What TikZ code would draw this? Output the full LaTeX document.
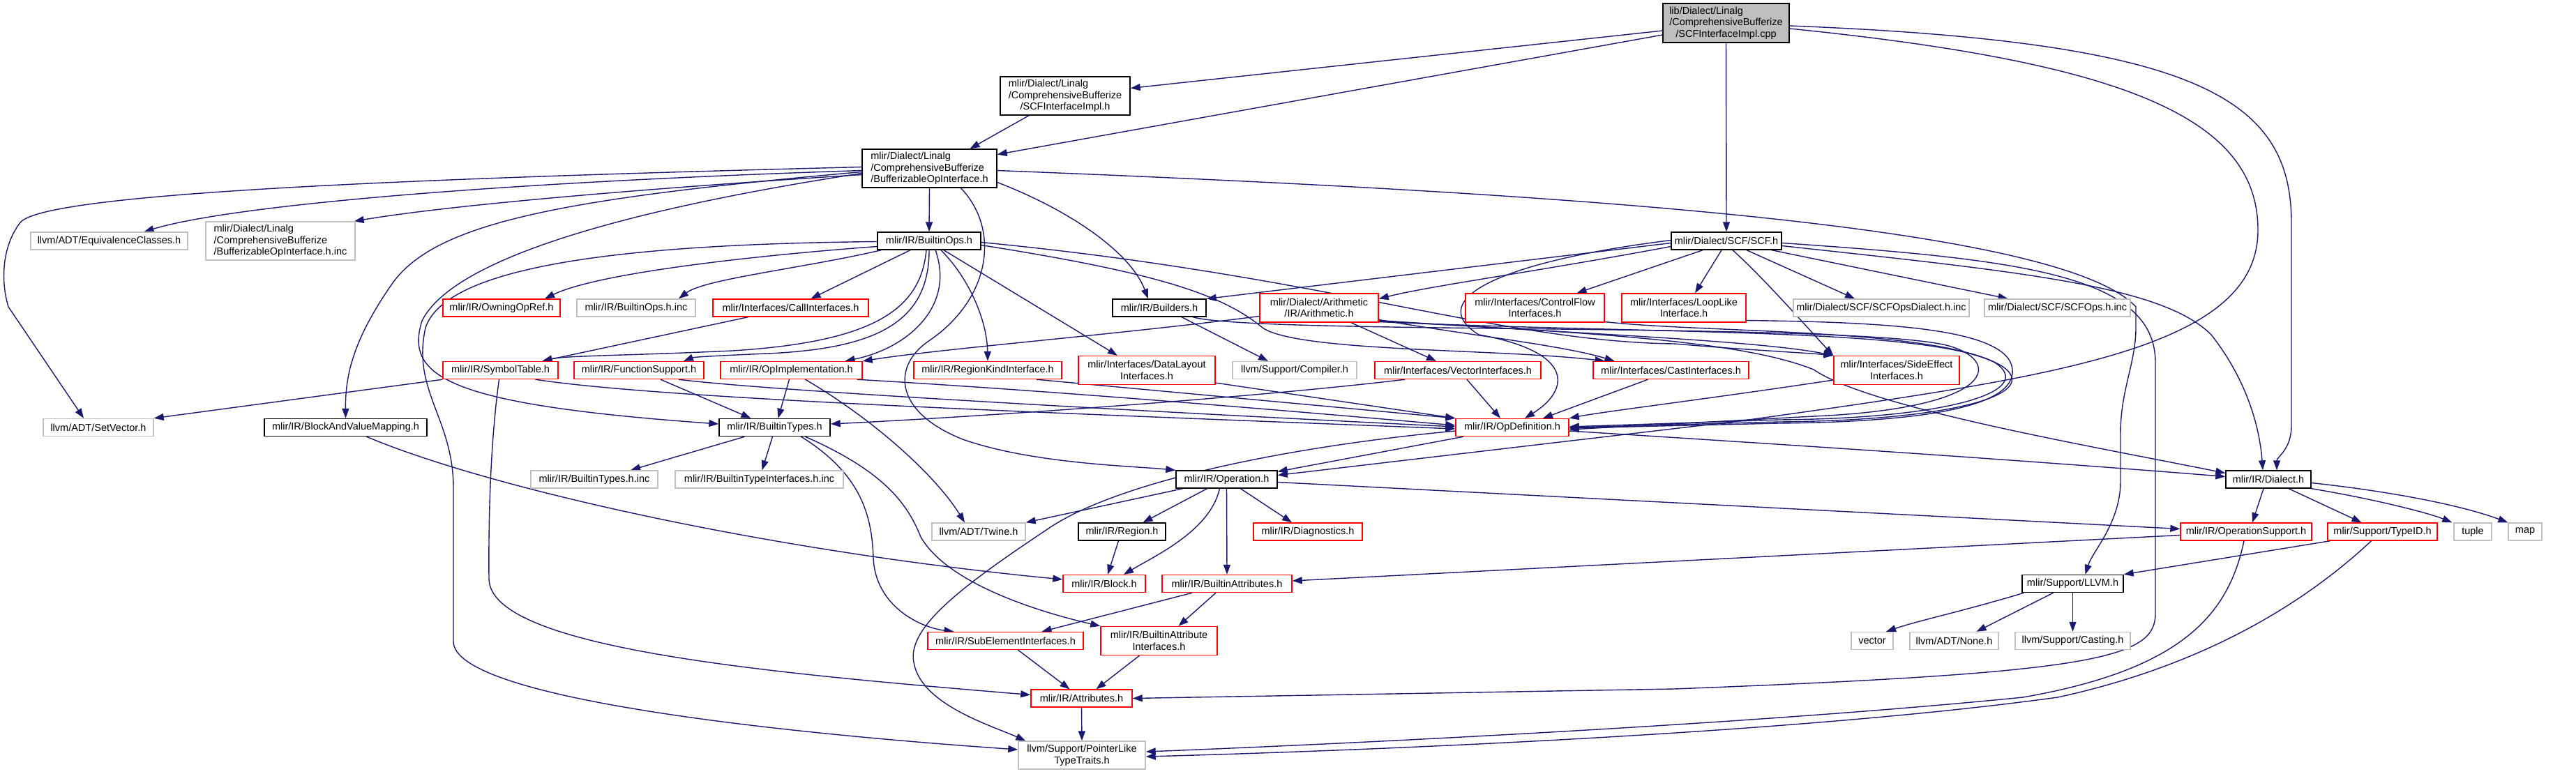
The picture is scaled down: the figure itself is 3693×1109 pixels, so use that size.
\documentclass[tikz,border=0pt]{standalone}
\usepackage{fontspec}
\setmainfont{Liberation Sans}
\usetikzlibrary{arrows.meta,backgrounds}
\definecolor{edgeblue}{HTML}{191970}
\definecolor{srcgray}{HTML}{BFBFBF}
\definecolor{sysgray}{HTML}{BFBFBF}
\newcommand{\lline}[2]{\makebox[0pt][l]{#1}\phantom{#2}}

\begin{document}
\begin{tikzpicture}[x=1pt, y=-1pt,
  hdr/.style={draw=black, fill=white, line width=1.4pt, inner sep=0pt, align=center, minimum height=25pt, font=\fontsize{14.5}{16.5}\selectfont},
  redhdr/.style={hdr, draw=red},
  syshdr/.style={hdr, draw=sysgray},
  srchdr/.style={hdr, fill=srcgray},
  inc/.style={->, draw=edgeblue, line width=1.4pt},
  >={Triangle[length=14pt,width=10pt]}]
	\useasboundingbox (0,0) rectangle (3693,1109);
	\node[srchdr, minimum width=181pt, minimum height=56pt] (root) at (2474.5,33) {\lline{lib/Dialect/Linalg}{/ComprehensiveBufferize}\\/ComprehensiveBufferize\\/SCFInterfaceImpl.cpp};
	\node[hdr, minimum width=186pt, minimum height=55pt] (scfimplh) at (1527,137.5) {\lline{mlir/Dialect/Linalg}{/ComprehensiveBufferize}\\/ComprehensiveBufferize\\/SCFInterfaceImpl.h};
	\node[hdr, minimum width=193pt, minimum height=55pt] (boi) at (1332.5,241.5) {\lline{mlir/Dialect/Linalg}{/BufferizableOpInterface.h}\\\lline{/ComprehensiveBufferize}{/BufferizableOpInterface.h}\\/BufferizableOpInterface.h};
	\node[syshdr, minimum width=225pt] (equiv) at (156.5,345.5) {llvm/ADT/EquivalenceClasses.h};
	\node[syshdr, minimum width=214pt, minimum height=55pt] (boiinc) at (402,345.5) {\lline{mlir/Dialect/Linalg}{/BufferizableOpInterface.h.inc}\\\lline{/ComprehensiveBufferize}{/BufferizableOpInterface.h.inc}\\/BufferizableOpInterface.h.inc};
	\node[hdr, minimum width=148pt] (builtinops) at (1332,345.5) {mlir/IR/BuiltinOps.h};
	\node[hdr, minimum width=158pt] (scf) at (2475,345.5) {mlir/Dialect/SCF/SCF.h};
	\node[redhdr, minimum width=168pt] (owning) at (719,441.5) {mlir/IR/OwningOpRef.h};
	\node[syshdr, minimum width=170pt] (builtinopsinc) at (912,441.5) {mlir/IR/BuiltinOps.h.inc};
	\node[redhdr, minimum width=223pt] (callif) at (1133.5,441.5) {mlir/Interfaces/CallInterfaces.h};
	\node[hdr, minimum width=134pt] (builders) at (1662,441.5) {mlir/IR/Builders.h};
	\node[redhdr, minimum width=170pt, minimum height=41pt] (arith) at (1891,441.5) {mlir/Dialect/Arithmetic\\/IR/Arithmetic.h};
	\node[redhdr, minimum width=199pt, minimum height=41pt] (controlflow) at (2200.5,441.5) {mlir/Interfaces/ControlFlow\\Interfaces.h};
	\node[redhdr, minimum width=178pt, minimum height=41pt] (looplike) at (2414,441.5) {mlir/Interfaces/LoopLike\\Interface.h};
	\node[syshdr, minimum width=252pt] (scfdialectinc) at (2697,441.5) {mlir/Dialect/SCF/SCFOpsDialect.h.inc};
	\node[syshdr, minimum width=209pt] (scfopsinc) at (2949.5,441.5) {mlir/Dialect/SCF/SCFOps.h.inc};
	\node[redhdr, minimum width=165pt] (symtab) at (717.5,531) {mlir/IR/SymbolTable.h};
	\node[redhdr, minimum width=186pt] (funcsupport) at (916,531) {mlir/IR/FunctionSupport.h};
	\node[redhdr, minimum width=203pt] (opimpl) at (1134.5,531) {mlir/IR/OpImplementation.h};
	\node[redhdr, minimum width=212pt] (regionkind) at (1416,531) {mlir/IR/RegionKindInterface.h};
	\node[redhdr, minimum width=196pt, minimum height=41pt] (datalayout) at (1644,531) {mlir/Interfaces/DataLayout\\Interfaces.h};
	\node[syshdr, minimum width=178pt] (compiler) at (1856,531) {llvm/Support/Compiler.h};
	\node[redhdr, minimum width=238pt] (vectorif) at (2090,531) {mlir/Interfaces/VectorInterfaces.h};
	\node[redhdr, minimum width=223pt] (castif) at (2395.5,531) {mlir/Interfaces/CastInterfaces.h};
	\node[redhdr, minimum width=180pt, minimum height=41pt] (sideeffect) at (2719,531) {mlir/Interfaces/SideEffect\\Interfaces.h};
	\node[syshdr, minimum width=158pt] (setvector) at (141,613) {llvm/ADT/SetVector.h};
	\node[hdr, minimum width=233pt] (bvm) at (495.5,613) {mlir/IR/BlockAndValueMapping.h};
	\node[hdr, minimum width=159pt] (builtintypes) at (1110.5,613) {mlir/IR/BuiltinTypes.h};
	\node[redhdr, minimum width=162pt] (opdef) at (2168,613) {mlir/IR/OpDefinition.h};
	\node[syshdr, minimum width=182pt] (builtintypesinc) at (852,687.5) {mlir/IR/BuiltinTypes.h.inc};
	\node[syshdr, minimum width=241pt] (builtintypeifinc) at (1088.5,687.5) {mlir/IR/BuiltinTypeInterfaces.h.inc};
	\node[hdr, minimum width=145pt] (operation) at (1758.5,687.5) {mlir/IR/Operation.h};
	\node[hdr, minimum width=122pt] (dialect) at (3252,687.5) {mlir/IR/Dialect.h};
	\node[syshdr, minimum width=134pt] (twine) at (1403,762.5) {llvm/ADT/Twine.h};
	\node[hdr, minimum width=125pt] (region) at (1608.5,762.5) {mlir/IR/Region.h};
	\node[redhdr, minimum width=156pt] (diagnostics) at (1875,762.5) {mlir/IR/Diagnostics.h};
	\node[redhdr, minimum width=188pt] (opsupport) at (3220,762.5) {mlir/IR/OperationSupport.h};
	\node[redhdr, minimum width=157pt] (typeid) at (3415.5,762.5) {mlir/Support/TypeID.h};
	\node[syshdr, minimum width=54pt] (tuple) at (3545,762.5) {tuple};
	\node[syshdr, minimum width=48pt] (map) at (3620,762.5) {map};
	\node[redhdr, minimum width=118pt] (block) at (1583,837) {mlir/IR/Block.h};
	\node[redhdr, minimum width=186pt] (builtinattrs) at (1759,837) {mlir/IR/BuiltinAttributes.h};
	\node[hdr, minimum width=145pt] (llvmh) at (2971.5,837) {mlir/Support/LLVM.h};
	\node[redhdr, minimum width=223pt] (subelem) at (1441.5,919) {mlir/IR/SubElementInterfaces.h};
	\node[redhdr, minimum width=167pt, minimum height=41pt] (builtinattrif) at (1661.5,919) {mlir/IR/BuiltinAttribute\\Interfaces.h};
	\node[syshdr, minimum width=60pt] (vector) at (2684,919) {vector};
	\node[syshdr, minimum width=127pt] (none) at (2801.5,919) {llvm/ADT/None.h};
	\node[syshdr, minimum width=165pt] (casting) at (2971.5,919) {llvm/Support/Casting.h};
	\node[redhdr, minimum width=145pt] (attrs) at (1550.5,1001.5) {mlir/IR/Attributes.h};
	\node[syshdr, minimum width=182pt, minimum height=40pt] (ptrlike) at (1551,1083) {llvm/Support/PointerLike\\TypeTraits.h};
	\begin{scope}[on background layer]
	\fill[white] (0,0) rectangle (3693,1109);
	\draw[inc] ([yshift=-11pt]root.west) -- ([yshift=11pt]scfimplh.east);
	\draw[inc] ([yshift=-17pt]root.west) -- ([yshift=20pt]boi.east);
	\draw[inc] (root.south) -- (scf.north);
	\draw[inc] ([yshift=-4pt]root.east) .. controls (3150,60) and (3285,140) .. (3285,320) -- (3285,610) .. controls (3285,645) and (3264,655) .. ([xshift=12pt]dialect.north);
	\draw[inc] ([yshift=-8pt]root.east) .. controls (3050,90) and (3237,170) .. (3237,330) .. controls (3237,500) and (2950,540) .. (2500,603) -- ([yshift=6pt]operation.east);
	\draw[inc] ([xshift=-52pt]scfimplh.south) -- ([xshift=58pt]boi.north);
	\draw[inc] ([yshift=-3pt]boi.west) .. controls (700,262) and (330,295) .. ([xshift=50pt]equiv.north);
	\draw[inc] ([yshift=-9pt]boi.west) .. controls (900,272) and (640,295) .. ([xshift=-2pt]boiinc.north east);
	\draw[inc] ([yshift=2pt]boi.west) .. controls (500,258) and (70,280) .. (30,318) .. controls (4,350) and (0,400) .. (12,440) -- ([xshift=-21pt]setvector.north);
	\draw[inc] ([yshift=-5pt]boi.west) .. controls (800,285) and (620,320) .. (560,410) .. controls (505,490) and (495,540) .. (bvm.north);
	\draw[inc] (boi.south) -- (builtinops.north);
	\draw[inc] ([yshift=-20pt]boi.east) .. controls (1530,300) and (1620,360) .. ([xshift=-16pt]builders.north);
	\draw[inc] ([yshift=-7pt]boi.west) .. controls (900,300) and (650,370) .. (605,460) .. controls (580,540) and (640,580) .. ([yshift=5pt]builtintypes.west);
	\draw[inc] ([xshift=45pt]boi.south) .. controls (1435,330) and (1420,430) .. (1330,490) .. controls (1280,525) and (1280,590) .. (1380,630) .. controls (1480,665) and (1620,668) .. (operation.north west);
	\draw[inc] ([yshift=-3pt]boi.east) .. controls (2200,275) and (2950,320) .. (3062,440) -- (3062,470) .. controls (3062,520) and (3040,560) .. (3040,620) -- (3040,690) .. controls (3040,750) and (3000,790) .. ([xshift=18pt]llvmh.north);
	\draw[inc] ([yshift=-8pt]builtinops.west) .. controls (1100,365) and (860,390) .. ([xshift=62pt]owning.north);
	\draw[inc] ([xshift=6pt]builtinops.south west) .. controls (1150,385) and (1010,400) .. ([xshift=61pt]builtinopsinc.north);
	\draw[inc] ([xshift=-27pt]builtinops.south) -- ([xshift=29pt]callif.north);
	\draw[inc] ([xshift=-4pt]builtinops.south) .. controls (1320,440) and (1260,490) .. (1050,503) .. controls (900,510) and (810,510) .. ([xshift=60pt]symtab.north);
	\draw[inc] (builtinops.south) .. controls (1332,460) and (1260,500) .. (1100,507) .. controls (1030,510) and (995,512) .. ([xshift=64pt]funcsupport.north);
	\draw[inc] ([xshift=9pt]builtinops.south) .. controls (1370,440) and (1300,500) .. ([xshift=77pt]opimpl.north);
	\draw[inc] ([xshift=17pt]builtinops.south) .. controls (1390,400) and (1415,460) .. (regionkind.north);
	\draw[inc] ([xshift=21pt]builtinops.south) -- ([xshift=-42pt]datalayout.north);
	\draw[inc] ([yshift=-6pt]builtinops.east) .. controls (1650,390) and (1750,420) .. (1810,470) .. controls (1860,505) and (2150,500) .. ([xshift=-95pt]castif.north);
	\draw[inc] ([yshift=-2pt]builtinops.east) .. controls (1900,395) and (2150,490) .. (2400,493) .. controls (2520,503) and (2590,506) .. (sideeffect.north west);
	\draw[inc] ([yshift=-1pt]builtinops.west) .. controls (900,350) and (640,380) .. (610,470) .. controls (590,560) and (650,600) .. (650,700) -- (650,920) .. controls (650,1000) and (1100,1050) .. ([yshift=8pt]ptrlike.west);
	\draw[inc] ([xshift=-61pt]callif.south) -- ([xshift=60pt]symtab.north);
	\draw[inc] ([xshift=32pt]builders.south) -- ([xshift=-38pt]compiler.north);
	\draw[inc] ([xshift=48pt]builders.south) .. controls (1800,480) and (2650,462) .. (2790,495) .. controls (2870,515) and (2870,585) .. (2600,597) -- ([yshift=-3pt]opdef.east);
	\draw[inc] ([yshift=-12pt]arith.west) .. controls (1600,480) and (1350,500) .. (opimpl.north east);
	\draw[inc] ([xshift=46pt]arith.south) -- ([xshift=-31pt]vectorif.north);
	\draw[inc] ([yshift=-17pt]arith.east) .. controls (2100,480) and (2240,495) .. ([xshift=-81pt]castif.north);
	\draw[inc] ([yshift=-18pt]arith.east) .. controls (2250,478) and (2520,488) .. (sideeffect.north west);
	\draw[inc] ([yshift=-19pt]arith.east) .. controls (2300,478) and (2500,490) .. (2600,530) .. controls (2680,585) and (3000,640) .. ([yshift=9pt]dialect.west);
	\draw[inc] ([yshift=-20pt]arith.east) .. controls (2400,480) and (2760,470) .. (2860,520) .. controls (2920,560) and (2800,600) .. (2550,602) -- ([yshift=1pt]opdef.east);
	\draw[inc] ([xshift=-33pt]castif.south) -- ([xshift=44pt]opdef.north);
	\draw[inc] ([yshift=-20pt]controlflow.east) .. controls (2450,478) and (2780,470) .. (2870,525) .. controls (2930,565) and (2800,603) .. (2550,605) -- (opdef.east);
	\draw[inc] ([yshift=-18pt]looplike.east) .. controls (2700,462) and (2880,470) .. (2885,530) .. controls (2890,585) and (2750,605) .. (2550,607) -- ([yshift=-1pt]opdef.east);
	\draw[inc] ([yshift=-3pt]scf.west) -- ([yshift=13pt]builders.east);
	\draw[inc] ([yshift=-8pt]scf.west) .. controls (2200,390) and (2050,410) .. ([yshift=13pt]arith.east);
	\draw[inc] ([xshift=-34pt]scf.south) -- ([xshift=60pt]controlflow.north);
	\draw[inc] ([xshift=-7pt]scf.south) -- ([xshift=16pt]looplike.north);
	\draw[inc] ([xshift=29pt]scf.south) -- ([xshift=-38pt]scfdialectinc.north);
	\draw[inc] ([xshift=65pt]scf.south) -- ([xshift=-71pt]scfopsinc.north);
	\draw[inc] ([yshift=-7pt]scf.east) .. controls (2900,390) and (3100,410) .. (3170,480) .. controls (3225,550) and (3240,620) .. ([xshift=-8pt]dialect.north);
	\draw[inc] ([yshift=-3pt]scf.east) .. controls (2900,372) and (3090,395) .. (3090,520) -- (3090,880) .. controls (3090,945) and (3000,965) .. (2400,988) -- (attrs.east);
	\draw[inc] ([yshift=1pt]scf.west) .. controls (2150,375) and (2040,430) .. (2120,480) .. controls (2260,505) and (2250,560) .. ([xshift=18pt]opdef.north);
	\draw[inc] ([xshift=9pt]scf.south) .. controls (2530,400) and (2600,480) .. (sideeffect.north west);
	\draw[inc] (symtab.south west) -- (setvector.north east);
	\draw[inc] ([xshift=50pt]symtab.south) .. controls (950,572) and (1500,592) .. ([yshift=-2pt]opdef.west);
	\draw[inc] ([xshift=-2pt]symtab.south) .. controls (705,620) and (700,720) .. (701,830) .. controls (702,930) and (1100,965) .. ([yshift=5pt]attrs.west);
	\draw[inc] ([xshift=31pt]funcsupport.south) -- ([xshift=-34pt]builtintypes.north);
	\draw[inc] ([xshift=57pt]funcsupport.south) .. controls (1100,560) and (1600,588) .. ([yshift=1pt]opdef.west);
	\draw[inc] ([xshift=-3pt]opimpl.south) -- ([xshift=5pt]builtintypes.north);
	\draw[inc] ([xshift=20pt]opimpl.south) .. controls (1250,600) and (1340,680) .. ([xshift=-20pt]twine.north);
	\draw[inc] ([xshift=-8pt]opimpl.south east) .. controls (1500,560) and (1800,585) .. ([yshift=3pt]opdef.west);
	\draw[inc] ([xshift=70pt]regionkind.south) -- (opdef.north west);
	\draw[inc] ([yshift=-18pt]datalayout.east) -- (opdef.north west);
	\draw[inc] ([xshift=-76pt]vectorif.south) .. controls (1800,570) and (1400,598) .. ([yshift=5pt]builtintypes.east);
	\draw[inc] ([xshift=13pt]vectorif.south) -- ([xshift=-17pt]opdef.north);
	\draw[inc] ([yshift=-14pt]sideeffect.west) .. controls (2450,572) and (2300,590) .. (opdef.north east);
	\draw[inc] ([xshift=-43pt]builtintypes.south) -- ([xshift=52pt]builtintypesinc.north);
	\draw[inc] ([xshift=-3pt]builtintypes.south) -- ([xshift=4pt]builtintypeifinc.north);
	\draw[inc] ([xshift=38pt]builtintypes.south) .. controls (1235,680) and (1250,740) .. (1252,800) .. controls (1255,870) and (1320,900) .. ([xshift=-74pt]subelem.north);
	\draw[inc] ([xshift=44pt]builtintypes.south) .. controls (1265,675) and (1300,720) .. (1320,770) .. controls (1360,840) and (1500,880) .. (builtinattrif.north west);
	\draw[inc] ([xshift=30pt]bvm.south) .. controls (700,700) and (1100,790) .. ([yshift=6pt]block.west);
	\draw[inc] ([xshift=-70pt]opdef.south) -- ([yshift=-2pt]operation.north east);
	\draw[inc] ([yshift=-5pt]opdef.west) .. controls (1850,640) and (1600,690) .. (1500,760) .. controls (1380,840) and (1300,900) .. (1310,950) .. controls (1320,1010) and (1420,1040) .. ([xshift=11pt]ptrlike.north west);
	\draw[inc] ([yshift=-5pt]opdef.east) .. controls (2600,640) and (2900,660) .. ([yshift=4pt]dialect.west);
	\draw[inc] ([xshift=-63pt]operation.south) -- (twine.north east);
	\draw[inc] ([xshift=-28pt]operation.south) -- ([xshift=30pt]region.north);
	\draw[inc] ([xshift=-10pt]operation.south) .. controls (1735,760) and (1660,795) .. ([xshift=28pt]block.north);
	\draw[inc] (operation.south) -- (builtinattrs.north);
	\draw[inc] ([xshift=20pt]operation.south) -- ([xshift=-23pt]diagnostics.north);
	\draw[inc] ([yshift=-4pt]operation.east) -- ([yshift=4pt]opsupport.west);
	\draw[inc] ([xshift=-5pt]region.south) -- ([xshift=5pt]block.north);
	\draw[inc] ([xshift=-50pt]builtinattrs.south) -- ([xshift=52pt]subelem.north);
	\draw[inc] ([xshift=-16pt]builtinattrs.south) -- ([xshift=28pt]builtinattrif.north);
	\draw[inc] ([xshift=18pt]subelem.south) -- ([xshift=-17pt]attrs.north);
	\draw[inc] ([xshift=-28pt]builtinattrif.south) -- ([xshift=21pt]attrs.north);
	\draw[inc] (attrs.south) -- (ptrlike.north);
	\draw[inc] ([xshift=-7pt]dialect.south) -- ([xshift=9pt]opsupport.north);
	\draw[inc] ([xshift=29pt]dialect.south) -- ([xshift=-30pt]typeid.north);
	\draw[inc] (dialect.south east) .. controls (3400,715) and (3480,735) .. ([xshift=-2pt]tuple.north west);
	\draw[inc] ([yshift=-5pt]dialect.east) .. controls (3430,705) and (3530,725) .. (map.north west);
	\draw[inc] ([yshift=-5pt]opsupport.west) -- ([yshift=4pt]builtinattrs.east);
	\draw[inc] ([xshift=-3pt]opsupport.south) .. controls (3195,880) and (3130,960) .. (2900,1000) .. controls (2500,1040) and (1900,1068) .. ([yshift=5pt]ptrlike.east);
	\draw[inc] ([xshift=-75pt]typeid.south) -- (llvmh.north east);
	\draw[inc] ([xshift=-16pt]typeid.south) .. controls (3320,850) and (3180,950) .. (2950,1000) .. controls (2550,1055) and (1900,1078) .. ([yshift=-2pt]ptrlike.east);
	\draw[inc] ([xshift=3pt]llvmh.south west) .. controls (2820,875) and (2750,890) .. ([xshift=20pt]vector.north);
	\draw[inc] ([xshift=-28pt]llvmh.south) -- ([xshift=32pt]none.north);
	\draw[inc] (llvmh.south) -- (casting.north);
	\end{scope}
\end{tikzpicture}
\end{document}
